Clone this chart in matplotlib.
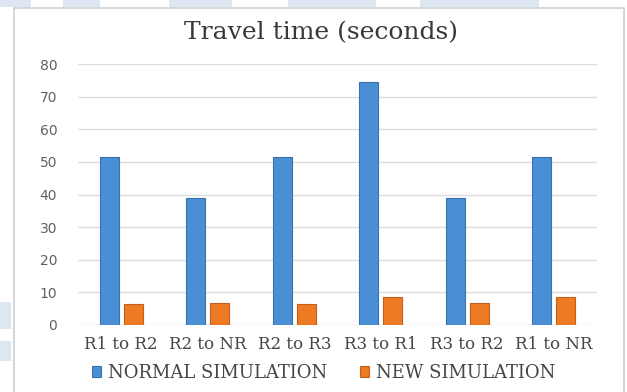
import matplotlib.pyplot as plt
import numpy as np
from matplotlib.patches import Rectangle

routes = ["R1 to R2", "R2 to NR", "R2 to R3", "R3 to R1", "R3 to R2", "R1 to NR"]
normal_sim = [51.4, 39.0, 51.4, 74.4, 39.0, 51.4]
new_sim = [6.5, 6.8, 6.4, 8.5, 6.8, 8.5]
yticks = [0, 10, 20, 30, 40, 50, 60, 70, 80]

fig = plt.figure(figsize=(6.27, 3.92), dpi=100)
fig.patch.set_facecolor("white")

# faint watermark strips round the chart box
for x0, w in [(0.0, 0.05), (0.10, 0.06), (0.27, 0.10), (0.46, 0.14), (0.67, 0.19)]:
    fig.patches.append(Rectangle((x0, 0.982), w, 0.018, transform=fig.transFigure,
                                 facecolor="#dde7f1", edgecolor="none", zorder=-2))
for y0, h in [(0.08, 0.05), (0.16, 0.07)]:
    fig.patches.append(Rectangle((0.0, y0), 0.018, h, transform=fig.transFigure,
                                 facecolor="#dde7f1", edgecolor="none", zorder=-2))

# chart box
fig.patches.append(Rectangle((14 / 627, -0.01), (624 - 14) / 627, 1 - 8 / 392 + 0.01,
                             transform=fig.transFigure, facecolor="white",
                             edgecolor="#cfcfcf", linewidth=1.2, zorder=-1))

ax = fig.add_axes([78 / 627, 1 - 325 / 392, (597 - 78) / 627, (325 - 64) / 392])
ax.set_facecolor("none")

x = np.arange(len(routes))
w = 0.22
ax.bar(x - 0.14, normal_sim, w, color="#4a8fd6", edgecolor="#3a70ad",
       linewidth=0.8, label="NORMAL SIMULATION", zorder=3)
ax.bar(x + 0.14, new_sim, w, color="#ef7a24", edgecolor="#c45f1a",
       linewidth=0.8, label="NEW SIMULATION", zorder=3)

ax.set_xlim(-0.5, len(routes) - 0.5)
ax.set_ylim(0, 80)
ax.set_yticks(yticks)
ax.set_yticklabels([str(v) for v in yticks], fontsize=10, color="#606060",
                   family="DejaVu Sans")
ax.set_xticks(x)
ax.set_xticklabels(routes, fontsize=12, color="#454545", family="DejaVu Serif")
ax.tick_params(axis="y", length=0, pad=15)
ax.tick_params(axis="x", length=0, pad=8)
ax.yaxis.grid(True, color="#dcdcdc", linewidth=1.0, zorder=0)
ax.set_axisbelow(True)
for s in ax.spines.values():
    s.set_visible(False)

fig.text(321 / 627, 1 - 33 / 392, "Travel time (seconds)", ha="center", va="center",
         fontsize=18, family="DejaVu Serif", color="#383838")

fig.legend(loc="center", bbox_to_anchor=(324 / 627, 1 - 373 / 392), ncol=2,
           frameon=False, prop={"family": "DejaVu Serif", "size": 13},
           handlelength=0.5, handleheight=0.5, handletextpad=0.4,
           columnspacing=1.8, labelcolor="#454545")

fig.savefig("out.png", dpi=100)
